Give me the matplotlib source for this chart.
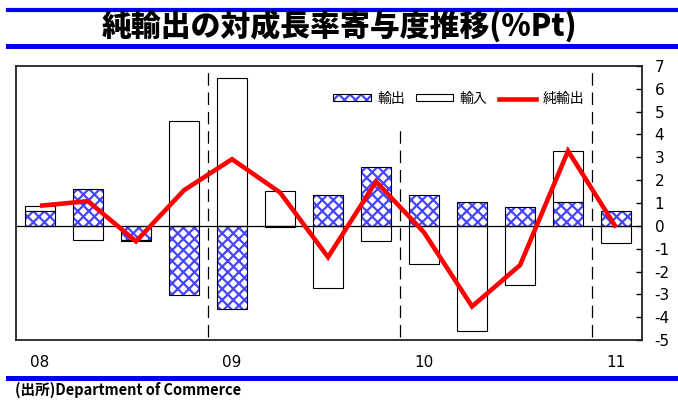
import matplotlib
matplotlib.use("Agg")
import matplotlib.pyplot as plt
from matplotlib.patches import Patch
from matplotlib.lines import Line2D
from matplotlib.legend_handler import HandlerTuple
import numpy as np

plt.rcParams['font.family'] = ['Noto Sans CJK JP', 'DejaVu Sans']
plt.rcParams['hatch.linewidth'] = 1.6

# Quarterly contributions to US real GDP growth (%Pt), 2008Q1-2011Q1
quarters = ["08Q1", "08Q2", "08Q3", "08Q4", "09Q1", "09Q2", "09Q3", "09Q4",
            "10Q1", "10Q2", "10Q3", "10Q4", "11Q1"]
exports = [0.66, 1.60, -0.62, -3.03, -3.64, -0.07, 1.33, 2.58, 1.33, 1.06, 0.81, 1.06, 0.67]
imports = [0.22, -0.60, -0.06, 4.57, 6.48, 1.52, -2.71, -0.66, -1.66, -4.62, -2.57, 2.20, -0.73]
net_exports = [0.88, 1.08, -0.68, 1.56, 2.92, 1.46, -1.37, 1.94, -0.29, -3.53, -1.72, 3.28, -0.07]

year_labels = ["08", "09", "10", "11"]
year_start_idx = [0, 4, 8, 12]
y_ticks = list(range(-5, 8))

BLUE = "#4646ff"
RED = "#ff0000"
TICK_FONT = ["DejaVu Sans"]

fig = plt.figure(figsize=(6.78, 4.0), dpi=100)
ax = fig.add_axes([16 / 678, 60 / 400, 626 / 678, 274 / 400])

x = np.arange(len(quarters))
exp = np.array(exports)
imp = np.array(imports)
# imports stack on top of exports when both share the same sign
imp_bottom = np.where(np.sign(exp) == np.sign(imp), exp, 0.0)

w = 0.625
ax.bar(x, exp, w, facecolor="white", edgecolor=BLUE, hatch="xxx", linewidth=0, zorder=2)
ax.bar(x, exp, w, fill=False, edgecolor="black", linewidth=0.8, zorder=3)
ax.bar(x, imp, w, bottom=imp_bottom, facecolor="white", edgecolor="black",
       linewidth=0.8, zorder=2)

ax.axhline(0, color="black", linewidth=0.9, zorder=4)
ax.plot(x, net_exports, color=RED, linewidth=3.3, solid_joinstyle="miter",
        solid_capstyle="butt", zorder=5)

# year separators
for xs, top in [(3.5, 7.0), (7.5, 4.3), (11.5, 7.0)]:
    ax.vlines(xs, -4.87, top, colors="black", linewidth=0.9,
              linestyles=(0, (10, 5.5)), zorder=1)

ax.set_xlim(-0.5, 12.54)
ax.set_ylim(-5, 7)
ax.set_xticks(year_start_idx)
ax.set_xticklabels(year_labels, fontsize=11, family=TICK_FONT)
ax.tick_params(axis="x", length=0, pad=11)
ax.yaxis.tick_right()
ax.set_yticks(y_ticks)
ax.set_yticklabels([str(v) for v in y_ticks], fontsize=11, family=TICK_FONT)
ax.tick_params(axis="y", direction="in", length=4, width=1, pad=9)
for s in ax.spines.values():
    s.set_linewidth(1.3)
    s.set_color("#222222")

h_exp = (Patch(facecolor="white", edgecolor=BLUE, hatch="xxx", linewidth=0),
         Patch(fill=False, edgecolor="black", linewidth=0.8))
h_imp = Patch(facecolor="white", edgecolor="black", linewidth=0.8)
h_net = Line2D([], [], color=RED, linewidth=3.3)
leg = ax.legend([h_exp, h_imp, h_net], ["輸出", "輸入", "純輸出"],
                handler_map={tuple: HandlerTuple(ndivide=1)},
                ncol=3, loc="center", bbox_to_anchor=(0.707, 0.88),
                fontsize=10, handlelength=2.7, handleheight=0.4,
                handletextpad=0.45, columnspacing=0.8,
                frameon=True, facecolor="white", edgecolor="none", framealpha=1)
leg.set_zorder(6)

# title band
fig.add_artist(Line2D([8 / 678, 1], [0.975, 0.975], color="#0000ee", linewidth=3))
fig.add_artist(Line2D([8 / 678, 1], [0.886, 0.886], color="#0000ee", linewidth=3.6))
fig.text(0.5, 0.932, "純輸出の対成長率寄与度推移(%Pt)", ha="center", va="center",
         fontsize=21.5, fontweight="heavy")

# source line
fig.add_artist(Line2D([8 / 678, 1], [0.054, 0.054], color="#0000ee", linewidth=3.6))
fig.text(15 / 678, 0.026, "(出所)Department of Commerce", ha="left", va="center",
         fontsize=10.5, fontweight="bold")

fig.savefig("out.png", dpi=100)
